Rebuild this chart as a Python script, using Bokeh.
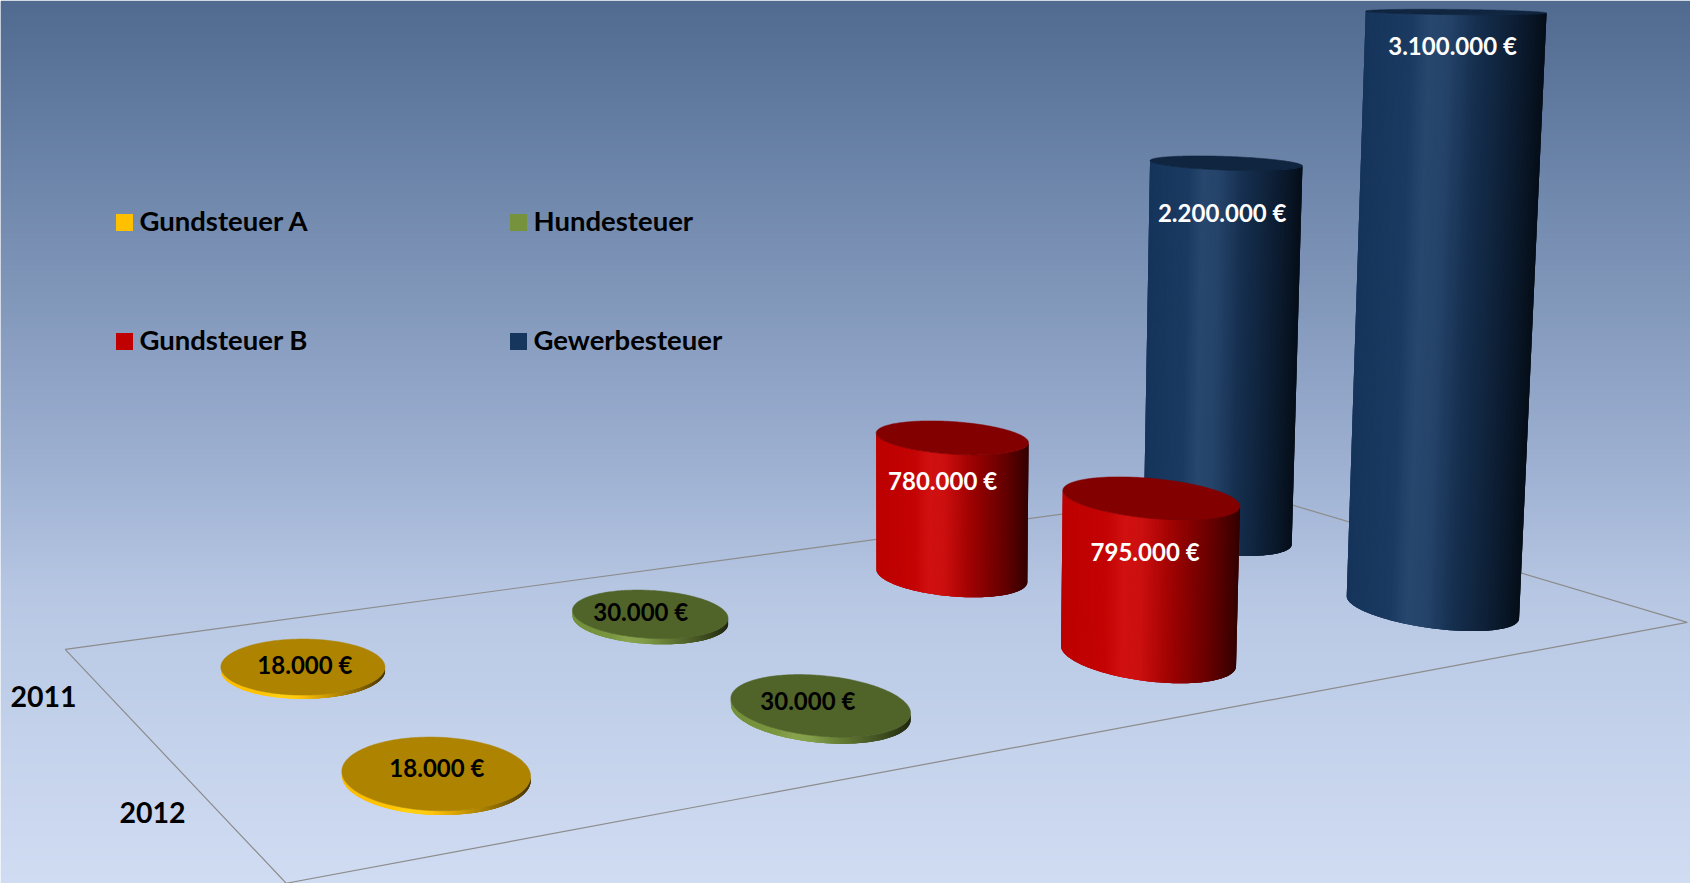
import numpy as np
from bokeh.plotting import figure
from bokeh.models import Range1d, ColumnDataSource
from bokeh.core.properties import value
from bokeh.embed import file_html
from bokeh.resources import INLINE

# ---------- data ----------
categories = ["Gundsteuer A", "Hundesteuer", "Gundsteuer B", "Gewerbesteuer"]
years = ["2011", "2012"]
values_2011 = [18000, 30000, 780000, 2200000]
values_2012 = [18000, 30000, 795000, 3100000]
series_colors = ["#FFC000", "#76923C", "#C00000", "#17365D"]
label_colors = ["black", "black", "white", "white"]

# ---------- layout / camera (reference pixels) ----------
SC = 1690 / 1568
CORNERS = [(60, 602), (1151, 454), (1565, 577), (265, 819)]
VP = (842, 13060)
W_PER_M = -0.01436
RU, RV = 0.0510, 0.139
U_SHIFT = [0.0005, 0.002, 0.0015, 0.0005]
V_SHIFT = 0.007
FONT = value("Lato")

(x0, y0), (x1, y1), (x2, y2), (x3, y3) = CORNERS
dx1, dx2, sx = x1 - x2, x3 - x2, x0 - x1 + x2 - x3
dy1, dy2, sy = y1 - y2, y3 - y2, y0 - y1 + y2 - y3
det = dx1 * dy2 - dx2 * dy1
G = (sx * dy2 - dx2 * sy) / det
H = (dx1 * sy - sx * dy1) / det
A, B, C = x1 - x0 + G * x1, x3 - x0 + H * x3, x0
D, E, F = y1 - y0 + G * y1, y3 - y0 + H * y3, y0


def project(u, v, euros=0.0):
    t = W_PER_M * (np.asarray(euros, dtype=float) / 1e6)
    w = G * u + H * v + 1 + t
    return (SC * (A * u + B * v + C + VP[0] * t) / w,
            SC * (D * u + E * v + F + VP[1] * t) / w)


def hex_rgb(c):
    return np.array([int(c[i:i + 2], 16) for i in (1, 3, 5)], dtype=float)


def rgb_hex(a):
    a = np.clip(np.round(a), 0, 255).astype(int)
    return "#%02x%02x%02x" % tuple(a)


SHADE_T = [0.0, 0.25, 0.35, 0.45, 0.60, 0.85, 1.0]
SHADE_M = [0.98, 1.00, 1.00, 0.98, 0.84, 0.52, 0.27]
GLOW_M = [0, 4, 17, 15, 3, 0, 0]

p = figure(width=1690, height=883, x_range=Range1d(0, 1690), y_range=Range1d(883, 0),
           output_backend="svg", toolbar_location=None, min_border=0,
           x_axis_type=None, y_axis_type=None)
p.grid.visible = False
p.outline_line_color = None

# background gradient
stop_y = [0, 200, 450, 600, 883]
stop_c = [(80, 106, 144), (113, 137, 173), (155, 174, 208), (184, 200, 228), (208, 220, 242)]
rows = np.arange(0, 884, 2)
row_c = [rgb_hex(np.array([np.interp(r, stop_y, [c[i] for c in stop_c]) for i in range(3)])) for r in rows]
p.quad(left=0, right=1690, top=rows, bottom=rows + 3, fill_color=row_c, line_color=None)

# floor outline
fu = np.array([0, 1, 1, 0, 0.0])
fv = np.array([0, 0, 1, 1, 0.0])
fx, fy = project(fu, fv)
p.line(fx, fy, line_color="#8c8c8c", line_width=1.2)


def cylinder(i, j, val, color):
    u, v = (i + 0.5) / len(categories) + U_SHIFT[i], (j + 0.5) / len(years) + V_SHIFT
    th = np.linspace(0, 2 * np.pi, 241)[:-1]
    cu, cv = u + RU * np.cos(th), v + RV * np.sin(th)
    bx, by = project(cu, cv)
    tx, ty = project(cu, cv, val)
    il, ir = int(np.argmin(bx)), int(np.argmax(bx))
    a1 = [(il + k) % 240 for k in range((ir - il) % 240 + 1)]
    a2 = [(ir + k) % 240 for k in range((il - ir) % 240 + 1)]
    arc = a1 if np.mean(by[a1]) > np.mean(by[a2]) else a2
    base = hex_rgb(color)
    xs, ys, cols = [], [], []
    for n in range(len(arc) - 1):
        k0, k1 = arc[n], arc[n + 1]
        k2 = arc[min(n + 3, len(arc) - 1)]          # overlap the next strips to hide seams
        t = (0.5 * (bx[k0] + bx[k1]) - bx[il]) / (bx[ir] - bx[il])
        m, g = np.interp(t, SHADE_T, SHADE_M), np.interp(t, SHADE_T, GLOW_M)
        xs.append([bx[k0], bx[k1], bx[k2], tx[k2], tx[k1], tx[k0]])
        ys.append([by[k0], by[k1], by[k2], ty[k2], ty[k1], ty[k0]])
        cols.append(rgb_hex(base * m + g))
    p.patches(xs, ys, fill_color=cols, line_color=None)
    top = rgb_hex(base * 0.68)
    p.patch(tx, ty, fill_color=top, line_color=top, line_width=0.5)
    return project(u, v, val)


LABEL_OFFSET = {(0, 0): (2, -2), (1, 0): (-9, -2), (2, 0): (-9, 43), (3, 0): (-3, 49),
                (0, 1): (1, -5), (1, 1): (-12, -4), (2, 1): (-5, 54), (3, 1): (-2, 34)}

labels = []
for j, vals in enumerate([values_2011, values_2012]):
    for i, val in enumerate(vals):
        cx, cy = cylinder(i, j, val, series_colors[i])
        ox, oy = LABEL_OFFSET[(i, j)]
        labels.append((cx + ox, cy + oy, f"{val:,}".replace(",", ".") + " €", label_colors[i]))

src = ColumnDataSource(dict(x=[l[0] for l in labels], y=[l[1] for l in labels],
                            t=[l[2] for l in labels], c=[l[3] for l in labels]))
p.text("x", "y", text="t", text_color="c", source=src, text_font=FONT, text_font_style="bold",
       text_font_size="24px", text_align="center", text_baseline="middle")

# legend
leg_x = [124, 518, 124, 518]
leg_y = [222, 222, 341, 341]
p.rect(leg_x, leg_y, width=17, height=17, fill_color=series_colors, line_color=None)
p.text([l + 15 for l in leg_x], [y - 2 for y in leg_y], text=categories, text_font=FONT,
       text_font_style="bold", text_font_size="27.5px", text_color="black",
       text_align="left", text_baseline="middle")

# depth axis labels
p.text([43, 152], [696, 812], text=years, text_font=FONT, text_font_style="bold",
       text_font_size="28.5px", text_color="black", text_align="center", text_baseline="middle")

open("out.html", "w").write(file_html(p, INLINE))
